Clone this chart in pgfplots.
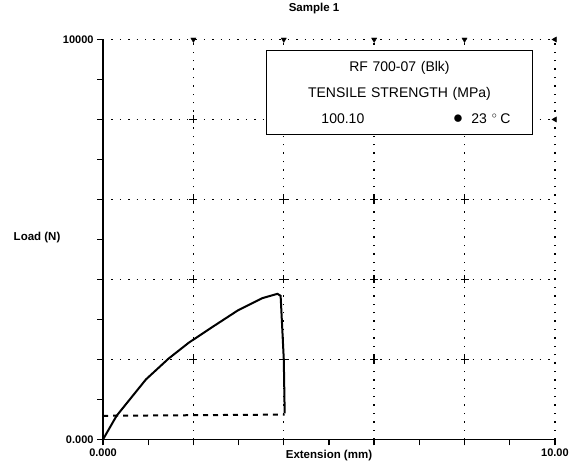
\documentclass[border=0pt]{standalone}
\usepackage{pgfplots}
\pgfplotsset{compat=1.18}
\usepackage{fontspec}
\setmainfont{Liberation Sans}

\begin{document}
\begin{tikzpicture}
  \begin{axis}[
    width=452pt, height=400pt, scale only axis,
    xmin=0, xmax=10, ymin=0, ymax=10000,
    clip=false,
    axis lines*=left,
    axis line style={line width=1.6pt},
    xtick={0,2,...,10}, minor xtick={1,3,...,9},
    ytick={0,2000,...,10000}, minor ytick={1000,3000,...,9000},
    xticklabels={0.000,,,,,10.00},
    yticklabels={0.000,,,,,10000},
    scaled y ticks=false,
    tick align=outside,
    major tick length=6pt, minor tick length=6pt,
    tick style={line width=1.4pt, black},
    grid=major,
    major grid style={line width=1.4pt, dash pattern=on 1.4pt off 7pt, black},
    tick label style={font=\bfseries\fontsize{11}{12}\selectfont},
    xlabel={Extension (mm)},
    xlabel style={font=\bfseries\fontsize{11.5}{12}\selectfont,
      at={(rel axis cs:0.5,-0.018)}, anchor=north},
    ylabel={Load (N)},
    ylabel style={font=\bfseries\fontsize{11.5}{12}\selectfont, rotate=-90,
      at={(rel axis cs:-0.146,0.505)}, anchor=center},
    title={Sample 1},
    title style={font=\bfseries\fontsize{11.5}{12}\selectfont,
      at={(rel axis cs:0.467,1.062)}, anchor=center},
  ]
    % markers on the grid crossings
    \addplot[only marks, mark=+, mark size=4pt, line width=1.4pt] coordinates {
      (2,2000) (4,2000) (6,2000) (8,2000)
      (2,4000) (4,4000) (6,4000) (8,4000)
      (2,6000) (4,6000) (6,6000) (8,6000)
      (2,8000)
    };
    \addplot[only marks, mark=triangle*, mark size=3pt,
      mark options={rotate=180}] coordinates {
      (2,10000) (4,10000) (6,10000) (8,10000)
    };
    \addplot[only marks, mark=triangle*, mark size=3pt,
      mark options={rotate=90}] coordinates {
      (10,8000) (10,10000)
    };

    % load curve
    \addplot[line width=2pt, black] coordinates {
      (0,0) (0.3,590) (0.95,1500) (1.45,2020) (1.9,2420) (2.46,2840)
      (2.99,3230) (3.52,3530) (3.86,3640) (3.93,3590) (4.0,2000) (4.02,650)
    };

    % return line
    \addplot[line width=2pt, black, dash pattern=on 5pt off 5pt] coordinates {
      (0,590) (4.02,620)
    };

    \node[draw, fill=white, line width=1.3pt, inner sep=0pt, text width=266pt,
      minimum height=84pt, align=center,
      font=\fontsize{14}{26}\selectfont]
      at (rel axis cs:0.656,0.8675)
      {RF 700-07 (Blk)\hspace*{44pt}\\
       TENSILE STRENGTH (MPa)\hspace*{36pt}\\
       \hspace*{55pt}100.10\hfill{\LARGE ●}\hspace{8pt}23\hspace{5pt}$^{\circ}$\hspace{3pt}C\hspace*{22pt}\mbox{}};

    \path (rel axis cs:-0.228,-0.0675) rectangle (rel axis cs:1.04,1.08);
  \end{axis}
\end{tikzpicture}
\end{document}
